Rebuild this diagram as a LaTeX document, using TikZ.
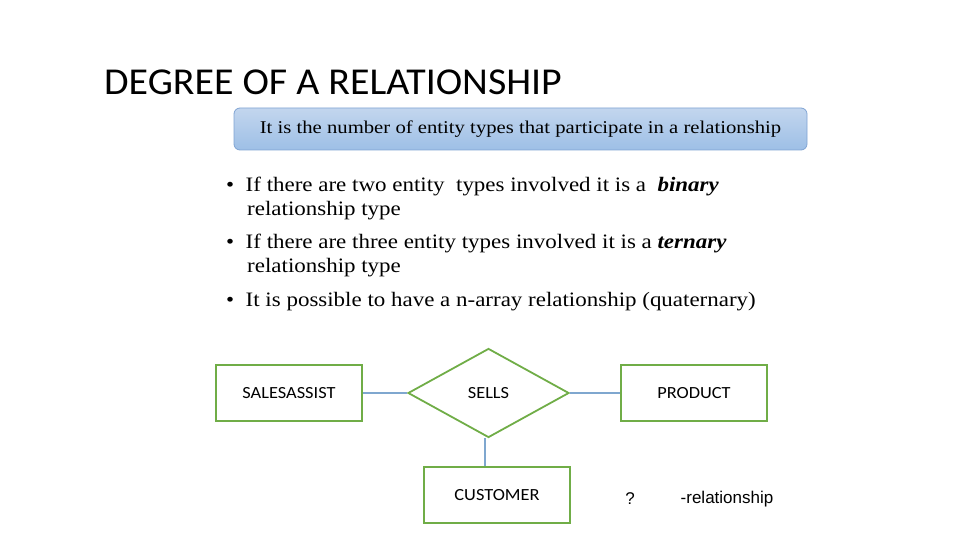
\documentclass[tikz,border=0pt]{standalone}
\usepackage{fontspec}
\setmainfont{Liberation Serif}[FakeStretch=1.12]
\newfontfamily\titlefont{Carlito}[FakeStretch=1.05]
\newfontfamily\diafont{Carlito}[FakeStretch=1.08]
\newfontfamily\boxfont{Liberation Serif}[FakeStretch=1.15]
\newfontfamily\arialfont{Liberation Sans}
\usetikzlibrary{shapes.geometric}
\definecolor{egreen}{HTML}{70AD47}
\definecolor{eline}{HTML}{7FA7CF}
\definecolor{boxtop}{HTML}{C3D6EE}
\definecolor{boxbot}{HTML}{9DBFE6}
\definecolor{boxedge}{HTML}{7FA3D3}
\tikzset{
  ent/.style={draw=egreen,line width=1.8pt,minimum width=146pt,minimum height=56pt,inner sep=0pt,font=\diafont\fontsize{17}{20}\selectfont},
  rel/.style={draw=egreen,line width=1.8pt,diamond,aspect=1.8,minimum width=161pt,minimum height=89pt,inner sep=0pt,font=\diafont\fontsize{17}{20}\selectfont},
  conn/.style={draw=eline,line width=1.1pt},
  btext/.style={anchor=base west,inner sep=0pt,font=\fontsize{20.5}{23}\selectfont},
}
\begin{document}
\begin{tikzpicture}[x=1pt,y=-1pt]
\useasboundingbox (0,0) rectangle (960,540);
\node[anchor=base west,inner sep=0pt,font=\titlefont\fontsize{38}{42}\selectfont] (title) at (104,95) {DEGREE OF A RELATIONSHIP};
\node[draw=boxedge,line width=0.8pt,rounded corners=6pt,top color=boxtop,bottom color=boxbot,minimum width=573pt,minimum height=42pt,inner sep=0pt,font=\boxfont\fontsize{18}{20}\selectfont] (def) at (520.5,129) {It is the number of entity types that participate in a relationship};
\node[btext] (b1) at (226,191) {\textbullet\ \ If there are two entity\ \ types involved it is a\ \ \textbf{\textit{binary}}};
\node[btext] (b1b) at (247,215) {relationship type};
\node[btext] (b2) at (226,248) {\textbullet\ \ If there are three entity types involved it is a \textbf{\textit{ternary}}};
\node[btext] (b2b) at (247,272) {relationship type};
\node[btext] (b3) at (226,306) {\textbullet\ \ It is possible to have a n-array relationship (quaternary)};
\node[ent] (sa) at (289,393) {SALESASSIST};
\node[rel] (sells) at (488.5,393) {\raisebox{-3pt}{SELLS}};
\node[ent] (prod) at (694,393) {PRODUCT};
\node[ent] (cust) at (497,495) {CUSTOMER};
\draw[conn] (sa.east) -- (sells.west);
\draw[conn] (sells.east) -- (prod.west);
\draw[conn] (sells.south -| 485,0) -- (cust.north -| 485,0);
\node[font=\arialfont\fontsize{17}{20}\selectfont] (q) at (630,499) {?};
\node[font=\arialfont\fontsize{17}{20}\selectfont] (rl) at (727,499) {-relationship};
\end{tikzpicture}
\end{document}
